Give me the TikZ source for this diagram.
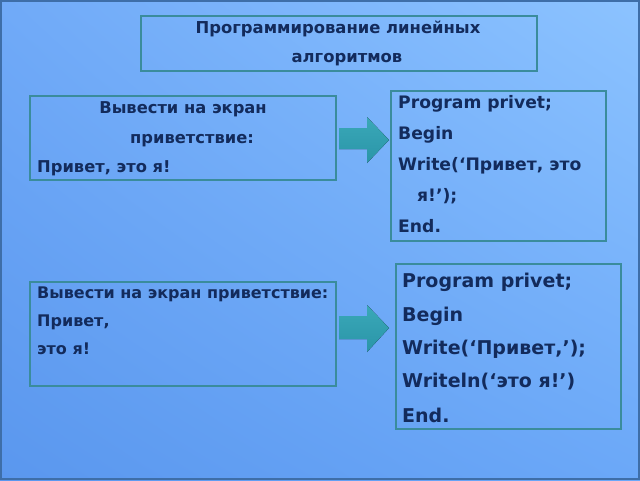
\documentclass[tikz,border=0pt]{standalone}
\usepackage{fontspec}
\setmainfont{DejaVu Sans}
\usetikzlibrary{shadings}
\begin{document}
\begin{tikzpicture}[x=1pt,y=-1pt,
  box/.style={draw=boxline,line width=2.4pt,inner sep=0pt,anchor=north west},
  ttl/.style={anchor=base,inner sep=0pt,text=ink,font=\fontsize{16.4}{18}\selectfont\bfseries},
  txt/.style={anchor=base west,inner sep=0pt,text=ink,font=\fontsize{16}{18}\selectfont\bfseries},
  txtc/.style={anchor=base,inner sep=0pt,text=ink,font=\fontsize{16.3}{18}\selectfont\bfseries},
  mid/.style={anchor=base west,inner sep=0pt,text=ink,font=\fontsize{17.2}{19}\selectfont\bfseries},
  big/.style={anchor=base west,inner sep=0pt,text=ink,font=\fontsize{19}{21}\selectfont\bfseries},
  blockarrow/.style={top color=arrowT,bottom color=arrowB,draw=none}]
\definecolor{ink}{HTML}{132B5C}
\definecolor{boxline}{HTML}{3A8C9C}
\definecolor{arrowT}{HTML}{3AA8B8}
\definecolor{arrowB}{HTML}{2A95A8}
\definecolor{bgUR}{HTML}{8CC3FF}
\definecolor{bgUL}{HTML}{70AAF8}
\definecolor{bgLL}{HTML}{5A97EE}
\definecolor{bgLR}{HTML}{6BA8F8}
\definecolor{frame}{HTML}{3E6EA8}
\useasboundingbox (0,0) rectangle (640,480);
\shade[upper left=bgUL,upper right=bgUR,lower left=bgLL,lower right=bgLR] (0,0) rectangle (640,480);
\draw[frame,line width=2.5pt] (1.2,1) rectangle (638.8,479);
% title
\node[box,minimum width=396pt,minimum height=55pt] (title) at (140,15) {};
\node[ttl] (t1) at (338,33) {Программирование линейных};
\node[ttl] (t2) at (347,62) {алгоритмов};
% box A
\node[box,minimum width=306pt,minimum height=84pt] (A) at (29,95) {};
\node[txtc] (a1) at (183,113) {Вывести на экран};
\node[txtc] (a2) at (192,143) {приветствие:};
\node[txtc,anchor=base west] (a3) at (37,172) {Привет, это я!};
% box B
\node[box,minimum width=215pt,minimum height=150pt] (B) at (390,90) {};
\node[mid] (b1) at (398,108) {Program privet;};
\node[mid] (b2) at (398,139.5) {Begin};
\node[mid] (b3) at (398,170) {Write(‘Привет, это};
\node[mid] (b4) at (417,201) {я!’);};
\node[mid] (b5) at (398,232) {End.};
% box C
\node[box,minimum width=306pt,minimum height=104pt] (C) at (29,281) {};
\node[txt] (c1) at (37,298) {Вывести на экран приветствие:};
\node[txt] (c2) at (37,326) {Привет,};
\node[txt] (c3) at (37,354) {это я!};
% box D
\node[box,minimum width=225pt,minimum height=165pt] (D) at (395,263) {};
\node[big] (d1) at (402,287) {Program privet;};
\node[big] (d2) at (402,321) {Begin};
\node[big] (d3) at (402,354) {Write(‘Привет,’);};
\node[big] (d4) at (402,387) {Writeln(‘это я!’)};
\node[big] (d5) at (402,422) {End.};
% block arrows
\fill[blockarrow] (339,128) -- (367,128) -- (367,117) -- (389,140) -- (367,163) -- (367,149) -- (339,149) -- cycle;
\fill[blockarrow] (339,316) -- (367,316) -- (367,305) -- (389,328) -- (367,352) -- (367,339) -- (339,339) -- cycle;
\end{tikzpicture}
\end{document}
